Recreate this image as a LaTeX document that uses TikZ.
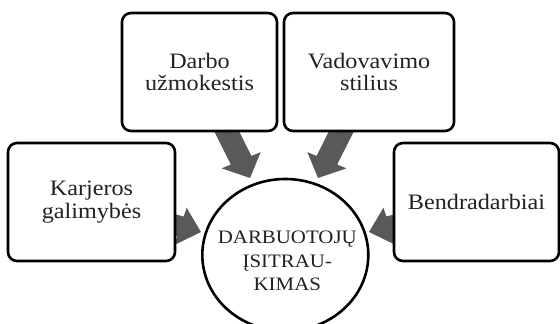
\documentclass[tikz,border=0pt]{standalone}
\usepackage{fontspec}
\setmainfont{Liberation Serif}[FakeStretch=1.1]
\usetikzlibrary{shapes.geometric,backgrounds}
\definecolor{arrowgray}{HTML}{595959}
\definecolor{txt}{HTML}{222222}
\newcommand{\blkarrow}[2]{%
  \begin{scope}[shift={#1}, rotate=#2]
    \fill[arrowgray] (0,0) -- (-19.5,19.5) -- (-19.5,10.3) -- (-70,10.3)
      -- (-70,-10.3) -- (-19.5,-10.3) -- (-19.5,-19.5) -- cycle;
  \end{scope}}
\begin{document}
\begin{tikzpicture}[x=1pt,y=1pt,
  box/.style={draw=black, line width=2.6pt, rounded corners=9pt, fill=white,
    align=center, text=txt, font=\fontsize{22}{22.5}\selectfont, inner sep=0pt,
    minimum height=118pt},
  hub/.style={draw=black, line width=2.6pt, ellipse, fill=white, inner sep=0pt,
    minimum width=166pt, minimum height=152pt},
  hubtext/.style={align=center, text=txt, font=\fontsize{19}{23.3}\selectfont, inner sep=0pt}]
\useasboundingbox (0,0) rectangle (560,324);
\node[box, minimum width=167pt] (kar) at (91.5,122) {Karjeros\\galimybės};
\node[box, minimum width=155pt] (dar) at (199.5,252) {Darbo\\užmokestis};
\node[box, minimum width=170pt] (vad) at (369,252) {Vadovavimo\\stilius};
\node[box, minimum width=165pt] (ben) at (476.5,122) {Bendradarbiai};
\node[hub] (hub) at (285.3,69) {};
\node[hubtext] (hubt) at ([xshift=2pt,yshift=-6pt]hub.center) {DARBUOTOJŲ\\ĮSITRAU-\\KIMAS};
\begin{scope}[on background layer, xscale=1.1]
  \blkarrow{(227.3,146)}{-65.5}
  \blkarrow{(289.1,146)}{-114.5}
  \blkarrow{(182.7,92)}{-16.7}
  \blkarrow{(335.5,92)}{-163.3}
\end{scope}
\end{tikzpicture}
\end{document}
